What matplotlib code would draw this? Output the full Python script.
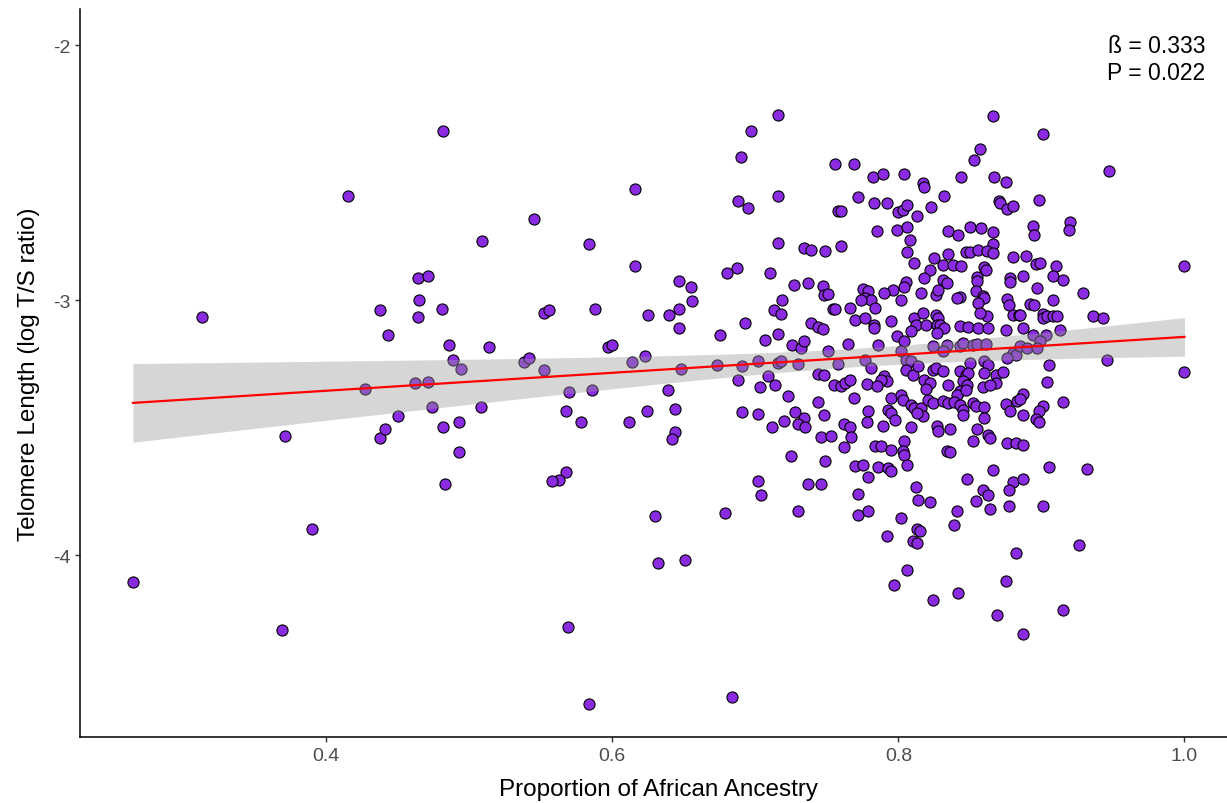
import numpy as np
import matplotlib
matplotlib.use("Agg")
import matplotlib.pyplot as plt

plt.rcParams['font.family'] = ['Liberation Sans', 'DejaVu Sans']

# (proportion of African ancestry, log T/S ratio)
pts_low = [
    (0.265, -4.106), (0.313, -3.067), (0.369, -4.294), (0.371, -3.533), (0.390, -3.898),
    (0.415, -2.592), (0.427, -3.349), (0.438, -3.039), (0.438, -3.541), (0.441, -3.506),
    (0.443, -3.137), (0.450, -3.455), (0.462, -3.326), (0.464, -2.914), (0.465, -3.000),
    (0.464, -3.067), (0.471, -2.906), (0.471, -3.322), (0.474, -3.420), (0.481, -3.035),
    (0.482, -2.337), (0.482, -3.498), (0.483, -3.722), (0.486, -3.177), (0.489, -3.235),
    (0.494, -3.271), (0.493, -3.479), (0.493, -3.596), (0.508, -3.420), (0.509, -2.769),
    (0.514, -3.184),
]
pts_mid = [
    (0.545, -2.679), (0.616, -2.565), (0.584, -2.780), (0.616, -2.867), (0.647, -2.926),
    (0.655, -2.949), (0.656, -3.004), (0.552, -3.051), (0.556, -3.039), (0.588, -3.035),
    (0.625, -3.059), (0.640, -3.059), (0.647, -3.035), (0.647, -3.110), (0.538, -3.243),
    (0.542, -3.228), (0.552, -3.275), (0.597, -3.184), (0.600, -3.177), (0.614, -3.243),
    (0.623, -3.220), (0.648, -3.271), (0.570, -3.361), (0.586, -3.353), (0.639, -3.353),
    (0.568, -3.435), (0.578, -3.479), (0.612, -3.479), (0.624, -3.435), (0.644, -3.428),
    (0.644, -3.518), (0.642, -3.545), (0.568, -3.675), (0.563, -3.706), (0.558, -3.710),
    (0.630, -3.847), (0.632, -4.032), (0.651, -4.020), (0.569, -4.283), (0.584, -4.585),
]
pts_c = [
    (0.680, -2.894), (0.687, -2.875), (0.690, -2.439), (0.688, -2.612), (0.675, -3.137),
    (0.673, -3.255), (0.688, -3.314), (0.691, -3.439), (0.679, -3.835), (0.684, -4.557),
    (0.716, -2.271), (0.697, -2.337), (0.756, -2.467), (0.695, -2.639), (0.716, -2.592),
    (0.758, -2.651), (0.760, -2.651), (0.716, -2.776), (0.734, -2.796), (0.739, -2.804),
    (0.749, -2.808), (0.760, -2.788), (0.710, -2.894), (0.727, -2.941), (0.737, -2.933),
    (0.747, -2.945), (0.748, -2.980), (0.751, -2.976), (0.754, -3.035), (0.756, -3.033),
    (0.766, -3.031), (0.719, -3.000), (0.713, -3.039), (0.718, -3.055), (0.693, -3.090),
    (0.707, -3.157), (0.716, -3.133), (0.739, -3.090), (0.744, -3.106), (0.747, -3.114),
    (0.726, -3.176), (0.732, -3.188), (0.734, -3.161), (0.751, -3.200), (0.765, -3.173),
    (0.691, -3.259), (0.702, -3.239), (0.716, -3.247), (0.718, -3.239), (0.730, -3.251),
    (0.758, -3.251), (0.709, -3.298), (0.703, -3.341), (0.714, -3.333), (0.723, -3.376),
    (0.744, -3.290), (0.748, -3.294), (0.755, -3.333), (0.760, -3.337), (0.763, -3.325),
    (0.766, -3.314), (0.744, -3.400), (0.702, -3.447), (0.728, -3.439), (0.734, -3.463),
    (0.730, -3.486), (0.735, -3.498), (0.720, -3.475), (0.712, -3.498), (0.748, -3.451),
    (0.746, -3.537), (0.753, -3.533), (0.762, -3.486), (0.766, -3.498), (0.767, -3.537),
    (0.762, -3.576), (0.725, -3.612), (0.749, -3.631), (0.702, -3.710), (0.704, -3.765),
    (0.737, -3.722), (0.746, -3.722), (0.730, -3.827),
]
pts_d = [
    (0.769, -2.467), (0.782, -2.518), (0.789, -2.506), (0.804, -2.506), (0.817, -2.541),
    (0.818, -2.557), (0.772, -2.596), (0.783, -2.620), (0.792, -2.620), (0.800, -2.655),
    (0.803, -2.647), (0.806, -2.624), (0.813, -2.671), (0.823, -2.635), (0.785, -2.729),
    (0.799, -2.725), (0.806, -2.714), (0.808, -2.765), (0.806, -2.812), (0.811, -2.855),
    (0.825, -2.835), (0.822, -2.882), (0.818, -2.914), (0.805, -2.929), (0.804, -2.949),
    (0.796, -2.961), (0.790, -2.973), (0.775, -2.957), (0.779, -2.965), (0.777, -2.992),
    (0.781, -3.000), (0.774, -3.000), (0.816, -2.973), (0.802, -3.000), (0.784, -3.031),
    (0.770, -3.078), (0.777, -3.071), (0.783, -3.098), (0.795, -3.082), (0.811, -3.071),
    (0.817, -3.051), (0.812, -3.098), (0.819, -3.098), (0.832, -2.592), (0.844, -2.518),
    (0.783, -3.110), (0.799, -3.141), (0.804, -3.161), (0.809, -3.122), (0.786, -3.176),
    (0.802, -3.200), (0.824, -3.180), (0.777, -3.235), (0.781, -3.267), (0.805, -3.235),
    (0.809, -3.239), (0.805, -3.275), (0.810, -3.294), (0.814, -3.259), (0.824, -3.275),
    (0.790, -3.298), (0.792, -3.318), (0.788, -3.314), (0.778, -3.329), (0.785, -3.337),
    (0.818, -3.314), (0.822, -3.325), (0.819, -3.349), (0.769, -3.384), (0.795, -3.384),
    (0.802, -3.373), (0.803, -3.392), (0.809, -3.412), (0.811, -3.424), (0.816, -3.424),
    (0.817, -3.455), (0.813, -3.443), (0.821, -3.392), (0.824, -3.404), (0.793, -3.431),
    (0.795, -3.443), (0.798, -3.471), (0.779, -3.435), (0.778, -3.478), (0.789, -3.494),
    (0.809, -3.498), (0.784, -3.573), (0.788, -3.573), (0.795, -3.588), (0.804, -3.553),
    (0.803, -3.592), (0.804, -3.608), (0.770, -3.651), (0.775, -3.647), (0.786, -3.655),
    (0.793, -3.659), (0.795, -3.671), (0.806, -3.647), (0.779, -3.694), (0.812, -3.733),
    (0.814, -3.784), (0.822, -3.792), (0.772, -3.761), (0.772, -3.843), (0.779, -3.827),
    (0.802, -3.855), (0.792, -3.925), (0.813, -3.898), (0.815, -3.906), (0.810, -3.945),
    (0.813, -3.953), (0.834, -3.592), (0.836, -3.596), (0.841, -3.827), (0.839, -3.882),
    (0.806, -4.059), (0.797, -4.118), (0.824, -4.176), (0.842, -4.149),
]
pts_e = [
    (0.835, -2.729), (0.842, -2.745), (0.850, -2.714), (0.858, -2.718), (0.866, -2.733),
    (0.866, -2.780), (0.835, -2.820), (0.831, -2.863), (0.838, -2.863), (0.844, -2.867),
    (0.847, -2.812), (0.850, -2.812), (0.856, -2.804), (0.862, -2.808), (0.866, -2.816),
    (0.880, -2.831), (0.860, -2.871), (0.861, -2.882), (0.831, -2.922), (0.834, -2.933),
    (0.855, -2.910), (0.855, -2.925), (0.878, -2.914), (0.878, -2.929), (0.826, -2.980),
    (0.828, -2.961), (0.843, -2.988), (0.841, -2.992), (0.854, -2.965), (0.859, -2.984),
    (0.860, -2.992), (0.856, -3.012), (0.862, -3.063), (0.857, -3.051), (0.876, -2.996),
    (0.877, -3.020), (0.880, -3.059), (0.884, -3.059), (0.826, -3.059), (0.828, -3.071),
    (0.827, -3.098), (0.829, -3.098), (0.832, -3.110), (0.827, -3.129), (0.843, -3.102),
    (0.849, -3.106), (0.856, -3.110), (0.863, -3.110), (0.875, -3.118), (0.834, -3.176),
    (0.843, -3.180), (0.845, -3.169), (0.852, -3.176), (0.855, -3.173), (0.861, -3.173),
    (0.831, -3.200), (0.880, -3.208), (0.882, -3.216), (0.876, -3.227), (0.850, -3.247),
    (0.860, -3.239), (0.863, -3.255), (0.843, -3.278), (0.847, -3.294), (0.849, -3.286),
    (0.845, -3.318), (0.860, -3.286), (0.868, -3.294), (0.873, -3.282), (0.826, -3.267),
    (0.831, -3.278), (0.835, -3.333), (0.848, -3.333), (0.843, -3.357), (0.841, -3.373),
    (0.847, -3.353), (0.868, -3.325), (0.831, -3.396), (0.835, -3.404), (0.839, -3.400),
    (0.843, -3.412), (0.845, -3.431), (0.852, -3.404), (0.854, -3.416), (0.860, -3.420),
    (0.875, -3.408), (0.878, -3.435), (0.883, -3.396), (0.827, -3.494), (0.828, -3.514),
    (0.836, -3.506), (0.855, -3.506), (0.860, -3.463), (0.863, -3.529), (0.864, -3.541),
    (0.852, -3.553), (0.876, -3.561), (0.882, -3.561), (0.859, -3.341), (0.864, -3.333),
    (0.845, -3.451),
    (0.866, -2.278), (0.857, -2.408), (0.853, -2.451), (0.867, -2.518), (0.875, -2.537),
    (0.870, -2.612), (0.871, -2.620), (0.876, -2.643), (0.880, -2.631), (0.866, -3.667),
    (0.848, -3.702), (0.880, -3.714), (0.859, -3.745), (0.863, -3.765), (0.877, -3.745),
    (0.854, -3.788), (0.864, -3.820), (0.877, -3.808), (0.882, -3.992), (0.875, -4.102),
    (0.869, -4.235),
]
pts_high = [
    (0.901, -2.349), (0.947, -2.494), (0.898, -2.608), (0.894, -2.710), (0.895, -2.745),
    (0.920, -2.694), (0.919, -2.725), (0.889, -2.827), (0.896, -2.859), (0.899, -2.855),
    (0.910, -2.867), (0.887, -2.906), (0.908, -2.906), (0.915, -2.922), (0.897, -2.953),
    (0.929, -2.973), (0.908, -3.000), (0.892, -3.016), (0.895, -3.020), (0.885, -3.059),
    (0.887, -3.110), (0.901, -3.055), (0.901, -3.071), (0.904, -3.063), (0.908, -3.063),
    (0.911, -3.063), (0.936, -3.063), (0.943, -3.071), (0.913, -3.118), (0.894, -3.137),
    (0.903, -3.137), (0.899, -3.161), (0.885, -3.180), (0.890, -3.188), (0.897, -3.188),
    (0.946, -3.235), (0.905, -3.255), (0.904, -3.322), (0.887, -3.369), (0.885, -3.388),
    (0.915, -3.400), (0.901, -3.416), (0.898, -3.435), (0.896, -3.467), (0.898, -3.478),
    (0.887, -3.451), (0.887, -3.569), (0.905, -3.655), (0.932, -3.663), (1.000, -2.867),
    (1.000, -3.282), (0.887, -3.702), (0.926, -3.961), (0.915, -4.216), (0.887, -4.310),
    (0.901, -3.808),
]

x_ticks = [0.4, 0.6, 0.8, 1.0]
x_tick_labels = ["0.4", "0.6", "0.8", "1.0"]
y_ticks = [-2, -3, -4]
y_tick_labels = ["-2", "-3", "-4"]
annotation = "ß = 0.333\nP = 0.022"

pts = np.array(pts_low + pts_mid + pts_c + pts_d + pts_e + pts_high)
x = pts[:, 0]
y = pts[:, 1]

fig = plt.figure(figsize=(12.27, 8.04), dpi=100)
ax = fig.add_axes([80 / 1227, 66 / 804, 1157 / 1227, 728 / 804])

ax.scatter(x, y, s=64, c='#8A2BE2', edgecolors='black', linewidths=0.8, zorder=2)

# linear fit with 95% confidence band
n = len(x)
b1, b0 = np.polyfit(x, y, 1)
xs = np.linspace(x.min(), x.max(), 80)
yhat = b0 + b1 * xs
resid = y - (b0 + b1 * x)
s = np.sqrt(np.sum(resid ** 2) / (n - 2))
sxx = np.sum((x - x.mean()) ** 2)
se = s * np.sqrt(1.0 / n + (xs - x.mean()) ** 2 / sxx)
tcrit = 1.965
ax.fill_between(xs, yhat - tcrit * se, yhat + tcrit * se, color='#999999',
                alpha=0.4, linewidth=0, zorder=3)
ax.plot(xs, yhat, color='#FF0000', lw=1.6, zorder=4)

ax.text(1.0145, -1.955, annotation, ha='right', va='top', fontsize=16.5,
        color='black', linespacing=1.25)

ax.set_xlim(0.228, 1.0367)
ax.set_ylim(-4.713, -1.857)
ax.set_xticks(x_ticks)
ax.set_xticklabels(x_tick_labels)
ax.set_yticks(y_ticks)
ax.set_yticklabels(y_tick_labels)
ax.tick_params(axis='both', direction='out', length=3.5, width=1, color='#333333',
               labelcolor='#4D4D4D', labelsize=14, pad=3.5)
for side in ['top', 'right']:
    ax.spines[side].set_visible(False)
for side in ['left', 'bottom']:
    ax.spines[side].set_color('black')
    ax.spines[side].set_linewidth(1.1)

ax.set_xlabel("Proportion of African Ancestry", fontsize=17.5, labelpad=10)
ax.set_ylabel("Telomere Length (log T/S ratio)", fontsize=17.5, labelpad=9)

fig.savefig("out.png", dpi=100, facecolor='white')
